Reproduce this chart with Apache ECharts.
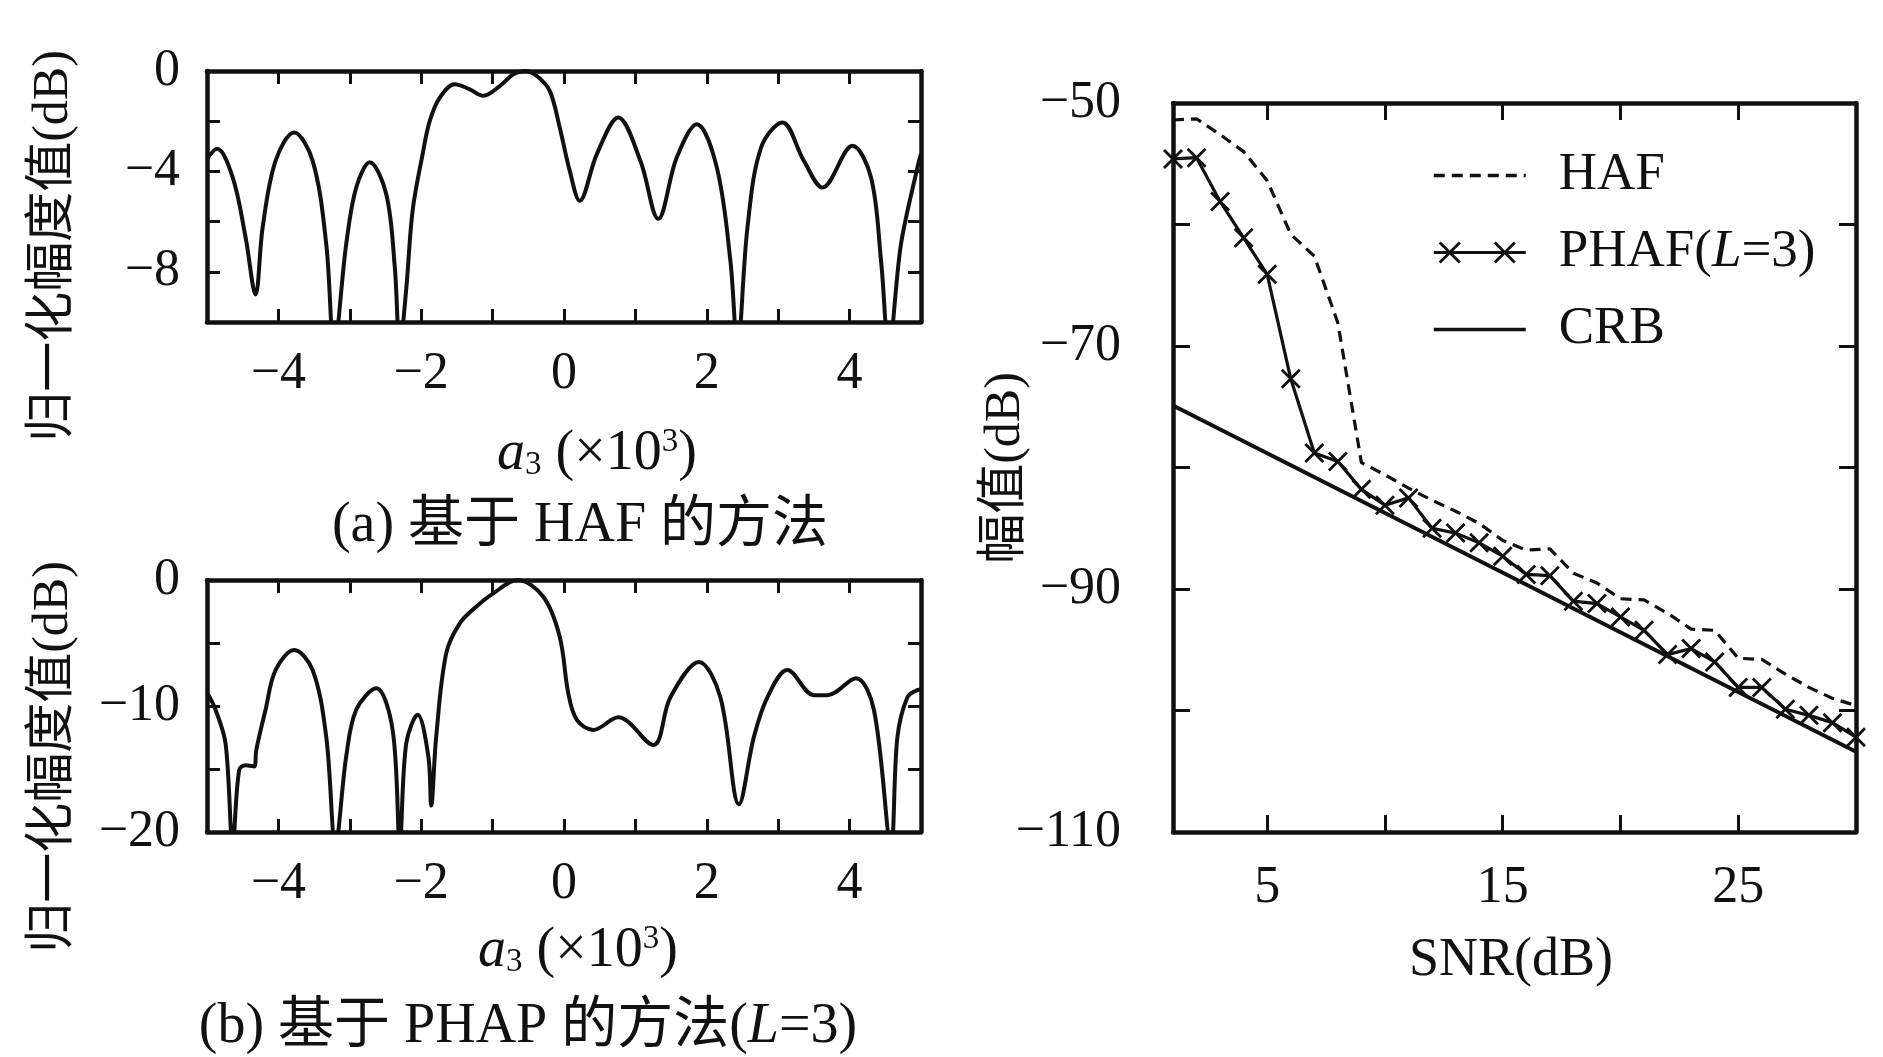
<!DOCTYPE html>
<html lang="zh-CN">
<head>
<meta charset="utf-8">
<title>HAF / PHAF</title>
<style>
  html, body { margin: 0; padding: 0; background: #fff; }
  #main { width: 1883px; height: 1057px; }
</style>
</head>
<body>
<div id="main"></div>
<script src="https://cdn.jsdelivr.net/npm/echarts@6/dist/echarts.min.js"></script>
<script>
// (a) 基于 HAF 的方法：a3 (x10^3) 与归一化幅度值 (dB)
var a3A = [-5.0, -4.86, -4.64, -4.46, -4.32, -4.22, -4.04, -3.78, -3.52, -3.33, -3.22, -3.05, -2.91, -2.72,
  -2.49, -2.37, -2.30, -2.21, -2.12, -1.98, -1.88, -1.74, -1.53, -1.32, -1.13, -0.90, -0.71, -0.55, -0.38,
  -0.20, -0.06, 0.08, 0.22, 0.46, 0.76, 1.07, 1.32, 1.58, 1.86, 2.14, 2.33, 2.43, 2.57, 2.76, 3.06, 3.36,
  3.62, 4.04, 4.30, 4.44, 4.55, 4.72, 4.95, 5.0];
var ampA = [-3.5, -3.1, -4.24, -6.62, -8.9, -6.22, -3.58, -2.45, -3.58, -6.89, -11, -6.89, -4.64, -3.64,
  -4.9, -7.81, -11, -8.7, -5.56, -3.31, -1.99, -1.06, -0.53, -0.73, -0.99, -0.6, -0.13, 0, -0.2,
  -0.79, -2.25, -3.97, -5.17, -3.31, -1.85, -3.58, -5.89, -3.44, -2.12, -3.84, -7.55, -11, -6.22, -3.05, -2.05, -3.58,
  -4.64, -2.98, -4.24, -7.55, -11, -6.89, -3.84, -3.3];

// (b) 基于 PHAP 的方法 (L=3)
var a3B = [-5.0, -4.88, -4.74, -4.64, -4.55, -4.46, -4.34, -4.31, -4.18, -4.04, -3.78, -3.52, -3.33, -3.20,
  -3.05, -2.91, -2.63, -2.40, -2.30, -2.21, -2.05, -1.90, -1.86, -1.79, -1.65, -1.46, -1.23, -0.99, -0.65,
  -0.29, -0.06, 0.06, 0.18, 0.41, 0.76, 1.25, 1.49, 1.89, 2.19, 2.45, 2.66, 2.85, 3.13, 3.50, 3.69, 4.09,
  4.34, 4.58, 4.67, 4.81, 4.95, 5.0];
var ampB = [-8.9, -10.3, -12.98, -21, -15.1, -14.7, -14.8, -13.5, -10.3, -7.15, -5.56, -7.15, -12.45, -21,
  -14.0, -10.3, -8.6, -11.9, -21, -12.98, -10.7, -14.0, -17.9, -12.45, -5.83, -3.44, -2.12, -1.06, 0,
  -1.33, -4.5, -9.0, -11.1, -11.9, -10.9, -13.1, -9.3, -6.5, -9.3, -17.8, -12.45, -9.3, -7.15, -9.14, -9.14, -7.8,
  -10.3, -21, -12.45, -9.3, -8.74, -8.7];

// (c) 幅值 (dB) 随 SNR (dB) 变化
var snr = [1, 2, 3, 4, 5, 6, 7, 8, 9, 10, 11, 12, 13, 14, 15, 16, 17, 18, 19, 20, 21, 22, 23, 24, 25, 26, 27, 28, 29, 30];
var hafDb = [-51.4, -51.3, -52.6, -54.0, -56.4, -60.8, -62.6, -68.1, -79.6, -80.6, -81.7, -82.7, -83.6, -84.6, -86.0,
  -86.8, -86.7, -88.7, -89.5, -90.8, -90.9, -92.0, -93.3, -93.4, -95.7, -95.8, -97.0, -98.1, -99.0, -99.6];
var phafDb = [-54.6, -54.5, -58.1, -61.1, -64.1, -72.7, -78.8, -79.5, -81.8, -83.1, -82.5, -85.0, -85.4, -86.2, -87.3,
  -88.8, -88.9, -91.0, -91.2, -92.3, -93.4, -95.4, -94.9, -96.0, -98.1, -98.1, -99.9, -100.4, -101.0, -102.2];
var crbSnr = [1, 30];
var crbDb = [-74.9, -103.4];

var snrTicks = [5, 10, 15, 20, 25];
var snrLabels = [5, 15, 25];
var legendNames = ['HAF', 'PHAF(L=3)', 'CRB'];

var FONT = "'Liberation Serif', 'Times New Roman', 'Noto Sans CJK SC', serif";
var INK = '#111';
// 叉形标记，图例里线两端各一个
var CROSS = 'path://M2,0L10,8L18,0L20,2L12,10L20,18L18,20L10,12L2,20L0,18L8,10L0,2Z';
var CROSS_LEGEND = 'path://M0,9.6L92,9.6L92,12.4L0,12.4Z' +
  'M7,0L16,9L25,0L27,2L18,11L27,20L25,22L16,13L7,22L5,20L14,11L5,2Z' +
  'M62,0L71,9L80,0L82,2L73,11L82,20L80,22L71,13L62,22L60,20L69,11L60,2Z';

function zip(xs, ys) {
  return xs.map(function (x, i) { return [x, ys[i]]; });
}
function minus(v) {
  return String(v).replace('-', '\u2212');
}

// 边框用的坐标轴：刻度朝里
function axisBase(extra) {
  var o = {
    type: 'value',
    splitLine: { show: false },
    axisLine: { show: true, onZero: false, lineStyle: { color: INK, width: 4.5 } },
    axisTick: { show: true, inside: true, length: 13, lineStyle: { color: INK, width: 3 } },
    axisLabel: { show: false }
  };
  for (var k in extra) o[k] = extra[k];
  return o;
}
function labelStyle(margin, fmt) {
  return { show: true, margin: margin, color: INK, fontFamily: FONT, fontSize: 52, formatter: fmt };
}
function a3Title(x, y) {
  return { type: 'text', x: x, y: y,
    style: { text: '{i|a}{sub|3} (×10{sup|3})', fill: INK, fontFamily: FONT, fontSize: 56, align: 'center', verticalAlign: 'middle',
      rich: { i: { fontFamily: FONT, fontSize: 56, fontStyle: 'italic', fill: INK },
              sub: { fontFamily: FONT, fontSize: 33, verticalAlign: 'bottom', fill: INK },
              sup: { fontFamily: FONT, fontSize: 33, verticalAlign: 'top', fill: INK } } } };
}
function yTitle(x, y, text) {
  return { type: 'text', x: x, y: y, rotation: Math.PI / 2,
    style: { text: text, fill: INK, fontFamily: FONT, fontSize: 50, align: 'center', verticalAlign: 'middle' } };
}

var chart = echarts.init(document.getElementById('main'));

var xFmt = function (v) { return v % 2 === 0 ? minus(v) : ''; };

chart.setOption({
  animation: false,
  backgroundColor: '#fff',
  grid: [
    { left: 207, top: 71, width: 714, height: 251 },
    { left: 207, top: 580, width: 714, height: 252 },
    { left: 1173, top: 103, width: 683, height: 729 }
  ],
  xAxis: [
    axisBase({ gridIndex: 0, min: -5, max: 5, interval: 1, position: 'bottom', axisLabel: labelStyle(26, xFmt) }),
    axisBase({ gridIndex: 0, min: -5, max: 5, interval: 1, position: 'top' }),
    axisBase({ gridIndex: 1, min: -5, max: 5, interval: 1, position: 'bottom', axisLabel: labelStyle(26, xFmt) }),
    axisBase({ gridIndex: 1, min: -5, max: 5, interval: 1, position: 'top' }),
    axisBase({
      gridIndex: 2, min: 1, max: 30, position: 'bottom',
      axisTick: { show: true, inside: true, length: 17, customValues: snrTicks, lineStyle: { color: INK, width: 3 } },
      axisLabel: { show: true, margin: 30, color: INK, fontFamily: FONT, fontSize: 52, customValues: snrLabels }
    }),
    axisBase({
      gridIndex: 2, min: 1, max: 30, position: 'top',
      axisTick: { show: true, inside: true, length: 17, customValues: snrTicks, lineStyle: { color: INK, width: 3 } }
    })
  ],
  yAxis: [
    axisBase({ gridIndex: 0, min: -10, max: 0, interval: 2, position: 'left',
      axisLabel: labelStyle(27, function (v) { return v % 4 === 0 ? minus(v) : ''; }) }),
    axisBase({ gridIndex: 0, min: -10, max: 0, interval: 2, position: 'right' }),
    axisBase({ gridIndex: 1, min: -20, max: 0, interval: 5, position: 'left',
      axisLabel: labelStyle(27, function (v) { return v % 10 === 0 ? minus(v) : ''; }) }),
    axisBase({ gridIndex: 1, min: -20, max: 0, interval: 5, position: 'right' }),
    axisBase({ gridIndex: 2, min: -110, max: -50, interval: 10, position: 'left',
      axisTick: { show: true, inside: true, length: 17, lineStyle: { color: INK, width: 3 } },
      axisLabel: labelStyle(52, function (v) { return (v + 50) % 20 === 0 ? minus(v) : ''; }) }),
    axisBase({ gridIndex: 2, min: -110, max: -50, interval: 10, position: 'right',
      axisTick: { show: true, inside: true, length: 17, lineStyle: { color: INK, width: 3 } } })
  ],
  legend: {
    data: [
      { name: legendNames[0], itemStyle: { opacity: 0 } },
      { name: legendNames[1], icon: CROSS_LEGEND },
      { name: legendNames[2], itemStyle: { opacity: 0 } }
    ],
    orient: 'vertical',
    left: 1427,
    top: 144,
    itemWidth: 92,
    itemHeight: 22,
    itemGap: 24,
    selectedMode: false,
    lineStyle: { width: 3.5 },
    formatter: function (n) { return n === 'PHAF(L=3)' ? 'PHAF({i|L}=3)' : n; },
    textStyle: {
      color: INK, fontFamily: FONT, fontSize: 53, padding: [0, 0, 0, 28],
      rich: { i: { color: INK, fontFamily: FONT, fontSize: 53, fontStyle: 'italic' } }
    }
  },
  graphic: [
    yTitle(54, 246, '归一化幅度值(dB)'),
    yTitle(54, 757, '归一化幅度值(dB)'),
    yTitle(1006, 468, '幅值(dB)'),
    a3Title(597, 454),
    a3Title(578, 951),
    { type: 'text', x: 580, y: 526,
      style: { text: '(a) 基于 HAF 的方法', fill: INK, fontFamily: FONT, fontSize: 56, align: 'center', verticalAlign: 'middle' } },
    { type: 'text', x: 528, y: 1027,
      style: { text: '(b) 基于 PHAP 的方法({i|L}=3)', fill: INK, fontFamily: FONT, fontSize: 56, align: 'center', verticalAlign: 'middle',
        rich: { i: { fontFamily: FONT, fontSize: 56, fontStyle: 'italic', fill: INK } } } },
    { type: 'text', x: 1511, y: 961,
      style: { text: 'SNR(dB)', fill: INK, fontFamily: FONT, fontSize: 54, align: 'center', verticalAlign: 'middle' } }
  ],
  series: [
    {
      type: 'line', xAxisIndex: 0, yAxisIndex: 0, data: zip(a3A, ampA),
      smooth: 0.35, symbol: 'none', clip: true,
      lineStyle: { color: INK, width: 4 }
    },
    {
      type: 'line', xAxisIndex: 2, yAxisIndex: 2, data: zip(a3B, ampB),
      smooth: 0.35, symbol: 'none', clip: true,
      lineStyle: { color: INK, width: 4 }
    },
    {
      name: 'HAF', type: 'line', xAxisIndex: 4, yAxisIndex: 4, data: zip(snr, hafDb),
      symbol: 'none', clip: true,
      lineStyle: { color: INK, width: 3.2, type: [11, 7] },
      itemStyle: { color: INK }
    },
    {
      name: 'PHAF(L=3)', type: 'line', xAxisIndex: 4, yAxisIndex: 4, data: zip(snr, phafDb),
      symbol: CROSS, symbolSize: 20, showSymbol: true, clip: true,
      lineStyle: { color: INK, width: 3.2 },
      itemStyle: { color: INK, borderWidth: 0 }
    },
    {
      name: 'CRB', type: 'line', xAxisIndex: 4, yAxisIndex: 4, data: zip(crbSnr, crbDb),
      symbol: 'none', clip: true,
      lineStyle: { color: INK, width: 4 },
      itemStyle: { color: INK }
    }
  ]
});
</script>
</body>
</html>
